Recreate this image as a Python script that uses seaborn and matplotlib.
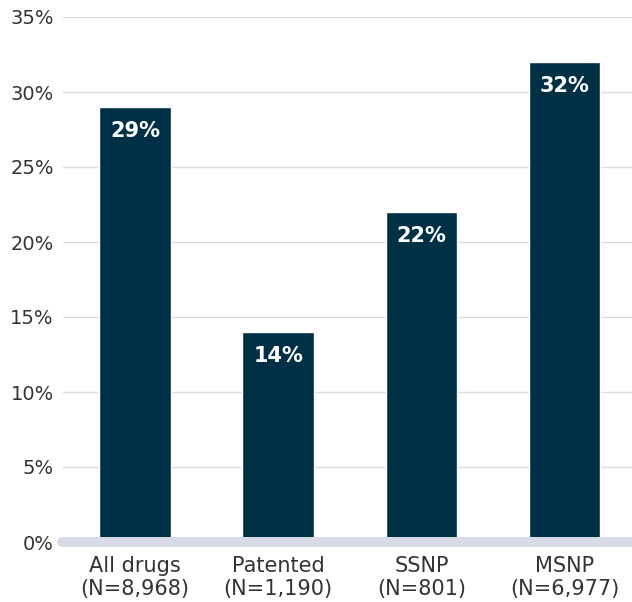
import matplotlib
matplotlib.use("Agg")
import matplotlib.pyplot as plt
import pandas as pd
import seaborn as sns

# Share of drugs by category
categories = ["All drugs\n(N=8,968)", "Patented\n(N=1,190)", "SSNP\n(N=801)", "MSNP\n(N=6,977)"]
shares = [29, 14, 22, 32]
y_ticks = [0, 5, 10, 15, 20, 25, 30, 35]

df = pd.DataFrame({"category": categories, "share": shares})

sns.set_theme(style="white")
plt.rcParams["font.family"] = ["DejaVu Sans"]

W, H = 632, 602
fig = plt.figure(figsize=(W / 100, H / 100), dpi=100)
left_px, right_px, top_px, bottom_px = 63.5, 632, 17, 542
ax = fig.add_axes([left_px / W, 1 - bottom_px / H,
                   (right_px - left_px) / W, (bottom_px - top_px) / H])

bar_color = "#003045"
sns.barplot(data=df, x="category", y="share", order=categories, color=bar_color,
            width=0.5, saturation=1, ax=ax, zorder=2)

ax.set_ylim(0, 35)
ax.set_xlim(-0.5, 3.47)
ax.set_yticks(y_ticks)
ax.set_yticklabels([f"{v}%" for v in y_ticks], fontsize=14, color="#333333")
ax.tick_params(axis="y", length=0, pad=7)
ax.tick_params(axis="x", length=0, pad=10, labelsize=15, labelcolor="#333333")
for lab in ax.get_xticklabels():
    lab.set_linespacing(1.17)
ax.set_xlabel("")
ax.set_ylabel("")
for s in ax.spines.values():
    s.set_visible(False)
ax.yaxis.grid(True, color="#dcdcdc", linewidth=1, zorder=0)
ax.set_axisbelow(True)

# Rounded baseline band at zero
x0 = ax.transData.inverted().transform((62, 0))[0]
ax.plot([x0, 3.6], [0, 0], color="#d6dbe7", linewidth=7.2,
        solid_capstyle="round", clip_on=False, zorder=5)

# Value labels inside bars
for i, v in enumerate(shares):
    ax.annotate(f"{v}%", xy=(i, v), xytext=(0, -17.5), textcoords="offset points",
                ha="center", va="center", color="white", fontsize=15,
                fontweight="semibold", zorder=6)

fig.savefig("out.png", dpi=100)
